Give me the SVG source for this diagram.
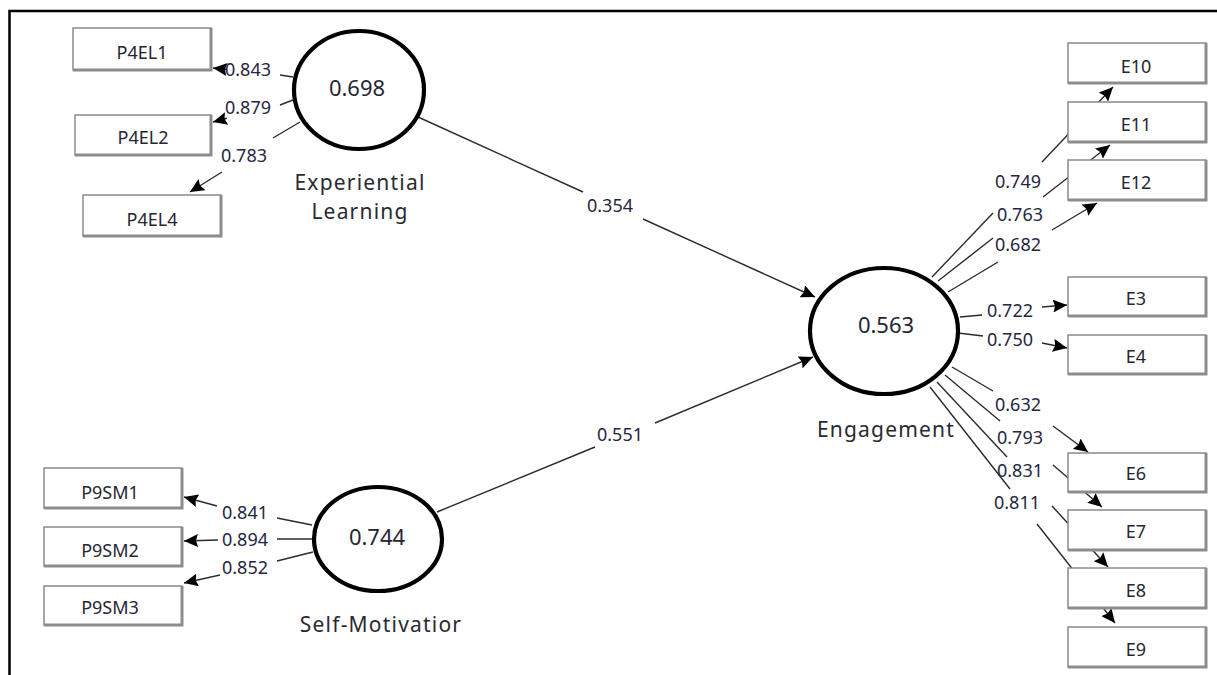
<svg xmlns="http://www.w3.org/2000/svg" width="1217" height="675" viewBox="0 0 1217 675">
<defs>
<marker id="arr" markerUnits="userSpaceOnUse" markerWidth="15" markerHeight="13" refX="14" refY="6.5" orient="auto">
<path d="M0,0 L14,6.5 L0,13 L2,6.5 z" fill="#000"/>
</marker>
<style>
.frame{stroke:#000;stroke-width:2.5;fill:none}
.c{stroke:#2b2b2b;stroke-width:1.4;fill:none}
.a{marker-end:url(#arr)}
.lv{fill:#fff;stroke:#000;stroke-width:4.2}
.box{fill:#fff;stroke:#8a8a8a;stroke-width:1.5}
.sh{fill:none;stroke:#8c8c8c;stroke-width:3}
.bt{font-family:"Noto Sans","Open Sans","Liberation Sans",sans-serif;font-size:18px;fill:#262633;text-anchor:middle}
.lb{font-family:"Noto Sans","Open Sans","Liberation Sans",sans-serif;font-size:18px;fill:#262640;text-anchor:middle}
.val{font-family:"Noto Sans","Open Sans","Liberation Sans",sans-serif;font-size:22px;fill:#262633;text-anchor:middle}
.nm{font-family:"Noto Sans","Open Sans","Liberation Sans",sans-serif;font-size:21px;fill:#2a2a30;text-anchor:middle;letter-spacing:1.2px}
</style>
</defs>
<rect width="1217" height="675" fill="#fff"/>
<path class="frame" d="M9.5,675 V11 H1217"/>

<g id="connectors">
<line class="c" x1="418" y1="117" x2="583" y2="192"/>
<line class="c a" x1="643" y1="219" x2="815" y2="297"/>
<line class="c" x1="437" y1="512" x2="595" y2="447"/>
<line class="c a" x1="655" y1="423" x2="813" y2="357"/>

<line class="c" x1="293" y1="77" x2="280" y2="75"/>
<line class="c a" x1="227" y1="69.5" x2="213" y2="68"/>
<line class="c" x1="293" y1="100" x2="280" y2="105"/>
<line class="c a" x1="227" y1="118.3" x2="213" y2="122"/>
<line class="c" x1="300" y1="122" x2="273" y2="138"/>
<line class="c a" x1="222" y1="172" x2="190" y2="192"/>

<line class="c" x1="312" y1="525" x2="277" y2="518"/>
<line class="c a" x1="217" y1="506" x2="184" y2="497"/>
<line class="c" x1="312" y1="539" x2="277" y2="539"/>
<line class="c a" x1="218" y1="540" x2="184" y2="541"/>
<line class="c" x1="313" y1="552" x2="277" y2="561"/>
<line class="c a" x1="220" y1="575" x2="184" y2="583"/>

<line class="c" x1="932" y1="277" x2="993" y2="213"/>
<line class="c a" x1="1042" y1="162" x2="1113" y2="87"/>
<line class="c" x1="938" y1="281" x2="993" y2="238"/>
<line class="c a" x1="1043" y1="197" x2="1110" y2="145"/>
<line class="c" x1="948" y1="292" x2="998" y2="262"/>
<line class="c a" x1="1052" y1="230" x2="1097" y2="203"/>
<line class="c" x1="960" y1="317" x2="982" y2="315"/>
<line class="c a" x1="1042" y1="307" x2="1067" y2="305"/>
<line class="c" x1="958" y1="333" x2="983" y2="336"/>
<line class="c a" x1="1042" y1="343" x2="1067" y2="348"/>
<line class="c" x1="952" y1="367" x2="993" y2="391"/>
<line class="c a" x1="1053" y1="426" x2="1088" y2="452"/>
<line class="c" x1="945" y1="375" x2="1000" y2="421"/>
<line class="c a" x1="1053" y1="465" x2="1102" y2="507"/>
<line class="c" x1="937" y1="382" x2="1007" y2="457"/>
<line class="c a" x1="1052" y1="506" x2="1108" y2="567"/>
<line class="c" x1="930" y1="387" x2="1010" y2="489"/>
<line class="c a" x1="1037" y1="524" x2="1115" y2="623"/>
</g>

<g id="connector-labels">
<text class="lb" x="248" y="76">0.843</text>
<text class="lb" x="248" y="114">0.879</text>
<text class="lb" x="244" y="162">0.783</text>
<text class="lb" x="610" y="212">0.354</text>
<text class="lb" x="620" y="441">0.551</text>
<text class="lb" x="245" y="519">0.841</text>
<text class="lb" x="245" y="546">0.894</text>
<text class="lb" x="245" y="574">0.852</text>
<text class="lb" x="1018" y="188">0.749</text>
<text class="lb" x="1020" y="221">0.763</text>
<text class="lb" x="1018" y="251">0.682</text>
<text class="lb" x="1010" y="317">0.722</text>
<text class="lb" x="1010" y="346">0.750</text>
<text class="lb" x="1018" y="411">0.632</text>
<text class="lb" x="1020" y="444">0.793</text>
<text class="lb" x="1020" y="477">0.831</text>
<text class="lb" x="1017" y="509">0.811</text>
</g>

<g id="experiential-learning">
<ellipse class="lv" cx="359" cy="90" rx="65" ry="59"/>
<text class="val" x="357" y="96">0.698</text>
<text class="nm" x="360" y="190">Experiential</text>
<text class="nm" x="360" y="219">Learning</text>
</g>
<g id="self-motivation">
<ellipse class="lv" cx="378" cy="539" rx="64" ry="52"/>
<text class="val" x="377" y="545">0.744</text>
<text class="nm" x="381" y="632">Self-Motivatior</text>
</g>
<g id="engagement">
<ellipse class="lv" cx="884" cy="331" rx="74" ry="63"/>
<text class="val" x="886" y="333">0.563</text>
<text class="nm" x="886" y="437">Engagement</text>
</g>

<g id="P4EL1"><rect class="box" x="73" y="28" width="138" height="42"/><path class="sh" d="M211,28 V70 H73"/><text class="bt" x="142" y="59">P4EL1</text></g>
<g id="P4EL2"><rect class="box" x="75" y="115" width="136" height="40"/><path class="sh" d="M211,115 V155 H75"/><text class="bt" x="143" y="144">P4EL2</text></g>
<g id="P4EL4"><rect class="box" x="83" y="195" width="138" height="41"/><path class="sh" d="M221,195 V236 H83"/><text class="bt" x="152" y="226">P4EL4</text></g>

<g id="P9SM1"><rect class="box" x="44" y="468" width="138" height="40"/><path class="sh" d="M182,468 V508 H44"/><text class="bt" x="110" y="499">P9SM1</text></g>
<g id="P9SM2"><rect class="box" x="44" y="527" width="138" height="39"/><path class="sh" d="M182,527 V566 H44"/><text class="bt" x="110" y="557">P9SM2</text></g>
<g id="P9SM3"><rect class="box" x="44" y="586" width="138" height="39"/><path class="sh" d="M182,586 V625 H44"/><text class="bt" x="110" y="614">P9SM3</text></g>

<g id="E10"><rect class="box" x="1068" y="43" width="138" height="40"/><path class="sh" d="M1206,43 V83 H1068"/><text class="bt" x="1136" y="73">E10</text></g>
<g id="E11"><rect class="box" x="1068" y="102" width="138" height="40"/><path class="sh" d="M1206,102 V142 H1068"/><text class="bt" x="1136" y="131">E11</text></g>
<g id="E12"><rect class="box" x="1068" y="160" width="138" height="40"/><path class="sh" d="M1206,160 V200 H1068"/><text class="bt" x="1136" y="189">E12</text></g>
<g id="E3"><rect class="box" x="1068" y="277" width="138" height="39"/><path class="sh" d="M1206,277 V316 H1068"/><text class="bt" x="1136" y="305">E3</text></g>
<g id="E4"><rect class="box" x="1068" y="335" width="138" height="39"/><path class="sh" d="M1206,335 V374 H1068"/><text class="bt" x="1136" y="363">E4</text></g>
<g id="E6"><rect class="box" x="1068" y="453" width="138" height="39"/><path class="sh" d="M1206,453 V492 H1068"/><text class="bt" x="1136" y="480">E6</text></g>
<g id="E7"><rect class="box" x="1068" y="510" width="138" height="40"/><path class="sh" d="M1206,510 V550 H1068"/><text class="bt" x="1136" y="538">E7</text></g>
<g id="E8"><rect class="box" x="1068" y="568" width="138" height="40"/><path class="sh" d="M1206,568 V608 H1068"/><text class="bt" x="1136" y="597">E8</text></g>
<g id="E9"><rect class="box" x="1068" y="627" width="138" height="40"/><path class="sh" d="M1206,627 V667 H1068"/><text class="bt" x="1136" y="656">E9</text></g>
</svg>
